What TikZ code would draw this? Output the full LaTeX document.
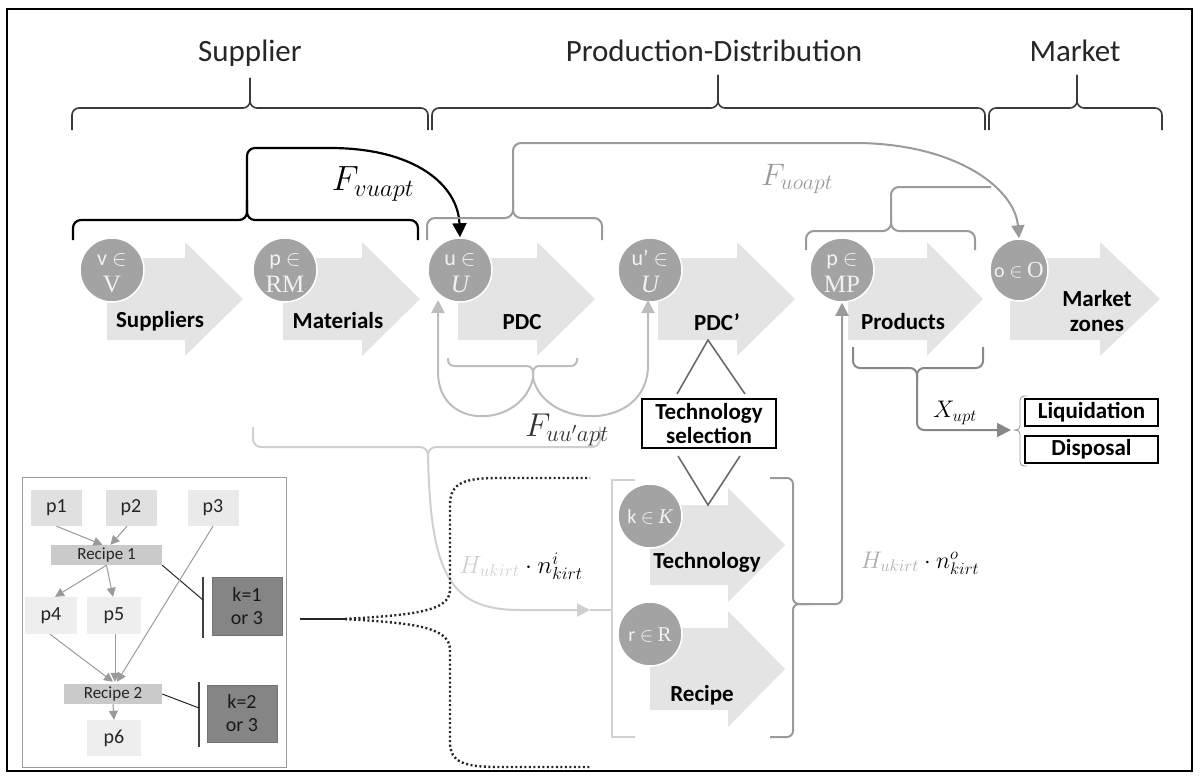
\RequirePackage{fix-cm}
\documentclass[tikz,border=0pt]{standalone}
\usepackage{fontspec}
\setmainfont{Carlito}
\newfontfamily\serifm{Liberation Serif}
\usetikzlibrary{arrows.meta,calc,shapes.geometric}
\definecolor{topbr}{HTML}{3A3A3A}
\definecolor{arrfill}{HTML}{E4E4E4}
\definecolor{circfill}{HTML}{A3A3A3}
\definecolor{circtext}{HTML}{F2F2F2}
\definecolor{gA}{HTML}{9A9A9A}
\definecolor{gB}{HTML}{BDBDBD}
\definecolor{gC}{HTML}{D0D0D0}
\definecolor{gD}{HTML}{6A6A6A}
\definecolor{pfill}{HTML}{E0E0E0}
\definecolor{pfillL}{HTML}{EEEEEE}
\definecolor{rfill}{HTML}{CACACA}
\definecolor{kfill}{HTML}{858585}
\newcommand{\bigarr}[6]{\fill[arrfill] (#1,#4-#5) -- (#2,#4-#5) -- (#2,#4-#6) -- (#3,#4) -- (#2,#4+#6) -- (#2,#4+#5) -- (#1,#4+#5) -- cycle;}
\newcommand{\hbrace}[7]{%
  \draw[#1,rounded corners=7] (#2,#5) |- (#4,#6) -- (#4,#7);
  \draw[#1,rounded corners=7] (#3,#5) |- (#4,#6) -- (#4,#7);}
% two-line circle label: name, x, y(center), top text, bottom text
\newcommand{\circtwo}[5]{%
  \node[ctxt, font=\fontsize{22}{22}\selectfont] (#1t) at (#2,#3-5) {#4};
  \node[ctxt, font=\serifm\fontsize{25}{25}\selectfont] (#1b) at (#2,#3+22) {#5};}
\tikzset{
  hdr/.style={font=\fontsize{31}{31}\selectfont, text=black!85, inner sep=0},
  lbl/.style={font=\bfseries\fontsize{23}{25}\selectfont, inner sep=0, align=center, text=black},
  circ/.style={circle, minimum size=64, inner sep=0, fill=circfill, draw=white, line width=1.5},
  ctxt/.style={anchor=base, inner sep=0, text=circtext},
  topb/.style={draw=topbr, line width=1.6},
  tipg/.style={-{Triangle[length=13,width=13]}},
  selbox/.style={draw=black, line width=1.2, inner sep=0, align=center, font=\bfseries\fontsize{23}{24}\selectfont},
  pbox/.style={fill=pfill, inner sep=0, minimum width=51, minimum height=36, font=\fontsize{20}{20}\selectfont, text=black!85},
  rbox/.style={fill=rfill, inner sep=0, minimum height=20, font=\fontsize{17}{17}\selectfont, text=black!85},
  kbox/.style={fill=kfill, draw=black!55, line width=0.8, inner sep=0, minimum width=70, align=center, font=\fontsize{20}{23}\selectfont, text=black!90},
  inarr/.style={draw=gA, line width=1, -{Triangle[length=9,width=9]}, gA}
}
\begin{document}
\begin{tikzpicture}[x=1pt,y=-1pt]
\useasboundingbox (0,0) rectangle (1200,776);
\draw[line width=1.5] (7,9) rectangle (1192,771);

% headers
\node[hdr, anchor=base] (hS) at (250,62) {Supplier};
\node[hdr, anchor=base] (hPD) at (714,62) {Production-Distribution};
\node[hdr, anchor=base] (hM) at (1075,62) {Market};
\hbrace{topb}{72}{428}{250}{130}{108}{78}
\hbrace{topb}{432}{985}{718}{130}{108}{75}
\hbrace{topb}{989}{1162}{1077}{130}{108}{75}

% big arrows
\bigarr{107}{185}{243}{299}{41}{57}
\bigarr{283}{362}{420}{299}{41}{57}
\bigarr{458}{537}{595}{299}{41}{57}
\bigarr{658}{737}{795}{299}{41}{57}
\bigarr{848}{927}{983}{299}{41}{57}
\bigarr{1010}{1100}{1160}{299}{41}{57}
\bigarr{650}{728}{785}{545}{40}{57}
\bigarr{650}{728}{785}{669}{41}{58}

\node[lbl] (tS) at (160,321) {Suppliers};
\node[lbl] (tM) at (338,321) {Materials};
\node[lbl] (tP) at (522,322) {PDC};
\node[lbl] (tP2) at (717,322) {PDC’};
\node[lbl] (tPr) at (903,322) {Products};
\node[lbl] (tMk) at (1097,311) {Market\\zones};
\node[lbl] (tT) at (707,562) {Technology};
\node[lbl] (tR) at (702,695) {Recipe};

% circles
\node[circ] (cV) at (112,270) {};
\node[circ] (cRM) at (285,270) {};
\node[circ] (cU) at (460,270) {};
\node[circ] (cU2) at (650,270) {};
\node[circ] (cMP) at (842,270) {};
\node[circ, ellipse, minimum width=58, minimum height=62] (cO) at (1019,270) {};
\node[circ] (cK) at (650,516) {};
\node[circ] (cR) at (650,634) {};
\circtwo{lV}{112}{270}{v $\in$}{V}
\circtwo{lRM}{285}{270}{p $\in$}{RM}
\circtwo{lU}{460}{270}{u $\in$}{\itshape U}
\circtwo{lUU}{650}{270}{u’ $\in$}{\itshape U}
\circtwo{lMP}{842}{270}{p $\in$}{MP}
\node[ctxt, font=\fontsize{20}{20}\selectfont] (lO) at (1019,277) {o $\in$ {\serifm\fontsize{23}{23}\selectfont O}};
\node[ctxt, font=\fontsize{20}{20}\selectfont] (lK) at (650,523) {k $\in$ {\serifm\itshape\fontsize{21}{21}\selectfont K}};
\node[ctxt, font=\fontsize{20}{20}\selectfont] (lR) at (650,641) {r $\in$ {\serifm\fontsize{21}{21}\selectfont R}};

% black brace + F_vuapt
\draw[black, line width=2.2, rounded corners=8] (73,240) |- (247,220) -- (247,200);
\draw[black, line width=2.2, rounded corners=8] (418,240) |- (247,220) -- (247,148) -- (330,148);
\draw[black, line width=2.2, -{Triangle[length=14,width=14]}] (330,148) .. controls (415,148) and (458,185) .. (cU.north);
\node[inner sep=0, font=\fontsize{35}{35}\selectfont] (Fv) at (373,184) {$F_{vuapt}$};

% gray brace over PDC + F_uoapt
\draw[gA, line width=2, rounded corners=8] (427,240) |- (513,218) -- (513,200);
\draw[gA, line width=2, rounded corners=8] (602,240) |- (513,218) -- (513,143) -- (600,143);
\draw[gA, line width=2, tipg] (600,143) -- (860,143) .. controls (960,145) and (1015,190) .. (cO.north);
\node[inner sep=0, text=gA, font=\fontsize{31}{31}\selectfont] (Fo) at (797,179) {$F_{uoapt}$};

% products upper brace
\draw[gA, line width=2, rounded corners=8] (806,250) |- (891,231) -- (891,215);
\draw[gA, line width=2, rounded corners=8] (975,250) |- (891,231) -- (891,187) -- (991,187);

% brace under PDC + F_uu'apt
\draw[gB, line width=2, rounded corners=6] (448,358) |- (533,366) -- (533,380);
\draw[gB, line width=2, rounded corners=6] (577,358) |- (533,366) -- (533,380);
\coordinate (uA) at (438,300);
\coordinate (uB) at (648,300);
\draw[gB, line width=2, tipg] (533,378) .. controls (522,428) and (438,432) .. (438,372) -- (uA);
\draw[gB, line width=2, tipg] (533,378) .. controls (545,430) and (648,432) .. (648,365) -- (uB);

% big light brace to tech/recipe
\draw[gC, line width=2, rounded corners=8] (253,427) |- (428,447) -- (428,460);
\draw[gC, line width=2, rounded corners=8] (600,427) |- (428,447) -- (428,455);
\node[inner sep=0, text=black!80, font=\fontsize{33}{33}\selectfont] (Fuu) at (567,430) {$F_{uu'apt}$};
\coordinate (aTip) at (590,610);
\draw[gC, line width=2, tipg] (428,452) .. controls (430,575) and (450,610) .. (520,610) -- (aTip);
\draw[gC, line width=2] (aTip) -- (612,610);
\node[inner sep=0, font=\fontsize{25}{25}\selectfont] (Hi) at (521,566) {$\color{gC}H_{ukirt}\color{black}\cdot n^{i}_{kirt}$};

% tech/recipe brackets
\draw[gC, line width=2] (635,480) -- (612,480) -- (612,737) -- (635,737);
\draw[gA, line width=2, rounded corners=6] (770,478) -| (793,604) -- (810,604);
\draw[gA, line width=2, rounded corners=6, tipg] (770,737) -| (793,604) -- (842,604) -- (cMP.south);
\node[inner sep=0, font=\fontsize{24}{24}\selectfont] (Ho) at (920,563) {$\color{gA!80}H_{ukirt}\color{black}\cdot n^{o}_{kirt}$};

% technology selection
\node[selbox, minimum width=134, minimum height=49] (ts) at (709,423.5) {Technology\\selection};
\draw[gD, line width=1.6] (677,394) -- (708,340) -- (745,394);
\draw[gD, line width=1.6] (678,456) -- (708,505) -- (740,456);

% products lower brace + X_upt
\draw[gD!80, line width=2, rounded corners=7] (853,347) |- (917,368) -- (917,382);
\draw[gD!80, line width=2, rounded corners=7, -{Triangle[length=14,width=14]}] (983,347) |- (917,368) -- (917,430) -- (1011,430);
\node[inner sep=0, font=\fontsize{24}{24}\selectfont] (Xu) at (955,413) {$X_{upt}$};
\draw[gA, line width=0.9, rounded corners=4] (1027,396) -| (1020,430) -- (1014,430);
\draw[gA, line width=0.9, rounded corners=4] (1027,466) -| (1020,430) -- (1014,430);
\node[selbox, minimum width=133, minimum height=27] (liq) at (1091.5,412.5) {Liquidation};
\node[selbox, minimum width=133, minimum height=27] (dis) at (1091.5,449.5) {Disposal};

% dotted brace
\draw[black!85, line width=2.6] (300,619) -- (345,619);
\draw[black!85, line width=2.4, dash pattern=on 2pt off 2.5pt] (345,619) .. controls (410,615) and (450,612) .. (450,590) -- (450,505) .. controls (450,482) and (465,478) .. (500,478) -- (590,478);
\draw[black!85, line width=2.4, dash pattern=on 2pt off 2.5pt] (345,619) .. controls (410,623) and (450,626) .. (450,650) -- (450,742) .. controls (450,763) and (465,767) .. (500,767) -- (590,767);

% inset
\draw[gA, line width=1] (22,477) rectangle (286,767);
\node[pbox] (p1) at (56.5,508) {p1};
\node[pbox] (p2) at (131,508) {p2};
\node[pbox, fill=pfillL!70!pfill] (p3) at (213,508) {p3};
\node[rbox, minimum width=111] (r1) at (106.5,555) {Recipe 1};
\node[pbox, fill=pfillL, minimum width=52, minimum height=37] (p4) at (51,615.5) {p4};
\node[pbox, fill=pfillL, minimum width=54, minimum height=37] (p5) at (114,615.5) {p5};
\node[rbox, minimum width=98] (r2) at (113,694) {Recipe 2};
\node[pbox, fill=pfillL, minimum width=54] (p6) at (114,738) {p6};
\node[kbox, minimum height=58] (k1) at (247,606) {k=1\\or 3};
\node[kbox, minimum height=57] (k2) at (242,713.5) {k=2\\or 3};
\draw[black!75, line width=1.2] (203,577) -- (203,638);
\draw[black!75, line width=1.2] (199,682) -- (199,747);
\draw[black!85, line width=1] (r1.south east) -- (203,600);
\draw[black!85, line width=1] (r1.south east |- r2.east) -- (199,708);
\draw[inarr] (p1.south) -- ($(r1.north)+(-4,0)$);
\draw[inarr] ($(p2.south)+(-4,0)$) -- ($(r1.north)+(4,0)$);
\draw[inarr] (r1.south) -- ($(p4.north)+(4,0)$);
\draw[inarr] (r1.south) -- ($(p5.north)+(-1,0)$);
\draw[inarr] (p3.south) -- ($(r2.north)+(4,-2)$);
\draw[inarr] ($(p4.south)+(-1,0)$) -- ($(r2.north)+(0,-2)$);
\draw[inarr] ($(p5.south)+(1,0)$) -- ($(r2.north)+(2,-2)$);
\draw[inarr] (r2.south) -- (p6.north);
\end{tikzpicture}
\end{document}
